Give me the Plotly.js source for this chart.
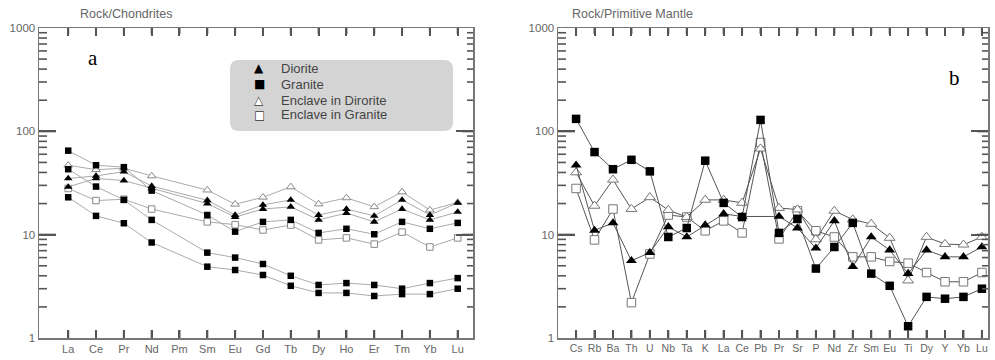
<!DOCTYPE html>
<html>
<head>
<meta charset="utf-8">
<script src="https://cdn.plot.ly/plotly-3.0.1.min.js"></script>
<style>html,body{margin:0;padding:0;background:#fff;}#chart{width:995px;height:360px;}</style>
</head>
<body>
<div id="chart"></div>
<script>
// ---------- Data ----------
const reeLabels = ['La','Ce','Pr','Nd','Pm','Sm','Eu','Gd','Tb','Dy','Ho','Er','Tm','Yb','Lu'];
const reeDioriteA = [35,37,40.7,29.5,null,21.5,15.5,19.4,21.7,15.5,17.7,15.2,21.7,15.5,20.3];
const reeDioriteB = [29,35,33.4,28.1,null,20,14.8,17.7,18.6,13.9,16.2,13.3,17.7,13.9,16.6];
const reeGraniteA = [65,47,45,26.7,null,15.5,10.7,13.3,13.9,10.4,11.4,10.1,13.3,11.4,13];
const reeGraniteB = [43,29.2,21.7,13.9,null,6.7,6.0,5.2,4.0,3.26,3.4,3.26,3.0,3.4,3.8];
const reeGraniteC = [23,15.2,12.9,8.4,null,4.9,4.55,4.07,3.2,2.73,2.73,2.55,2.66,2.66,3.0];
const reeEnclDiorite = [47,42.5,44,37,null,27,19.7,23,29,19.8,22.7,18.6,25.9,17.3,20.5];
const reeEnclGranite = [28,21.4,22,17.7,null,13.3,12.5,11.1,12.4,8.9,9.3,8.1,10.6,7.6,9.3];

const spiderLabels = ['Cs','Rb','Ba','Th','U','Nb','Ta','K','La','Ce','Pb','Pr','Sr','P','Nd','Zr','Sm','Eu','Ti','Dy','Y','Yb','Lu'];
const spDiorite = [47,11,13,5.6,6.7,11.9,9.5,12.4,15.9,15,null,15,11.6,7.4,13.6,4.9,9.5,7.1,4.2,7.1,6.1,6.1,7.6];
const spGranite = [132,63,43,53,41,9.5,11.6,52,20.3,14.8,129,10.4,14.2,4.7,7.6,13,4.2,3.2,1.3,2.5,2.4,2.5,3.0];
const spEnclDiorite = [40,19,34,17.7,23,17.3,14.8,21.7,21.7,20.3,68,18.1,17.5,9,17,14,12.7,9.3,3.6,9.5,8.1,8.0,9.5];
const spEnclGranite = [28,8.9,17.7,2.2,6.5,15.5,14.8,10.9,13.6,10.4,78,9.1,17,10.9,9.5,6.1,6.1,5.5,5.3,4.3,3.5,3.5,4.3];

const legendNames = ['Diorite','Granite','Enclave in Dirorite','Enclave in Granite'];
const yMajorTicks = [1, 10, 100, 1000];
const yMinorTicks = [2,3,4,5,6,7,8,9,20,30,40,50,60,70,80,90,200,300,400,500,600,700,800,900];

// ---------- Geometry (pixels) ----------
const W = 995, H = 360;
const px = x => x / W;
const py = y => 1 - y / H;
const idx = arr => arr.map((_, i) => i);
const TOP = 28, BOT = 338;
const panels = [
  {xa:'x', left:39, right:473, labels:reeLabels, range:[-1.05, 14.55]},
  {xa:'x2', left:558, right:988, labels:spiderLabels, range:[-0.98, 22.33]}
];

const leftLine = {color:'#aaaaaa', width:1};
const rightLine = {color:'#555555', width:1};

function mk(kind, size, openColor){
  if (kind === 'tri') return {symbol:'triangle-up', size:size, color:'#000', line:{width:0}};
  if (kind === 'sq') return {symbol:'square', size:size, color:'#000', line:{width:0}};
  if (kind === 'otri') return {symbol:'triangle-up', size:size, color:'#fff', line:{width:1, color:openColor}};
  return {symbol:'square', size:size, color:'#fff', line:{width:1, color:openColor}};
}
function tr(xa, ya, labels, vals, line, marker){
  return {type:'scatter', mode:'lines+markers', xaxis:xa, yaxis:ya,
    x: idx(labels), y: vals, connectgaps:true, line:line, marker:marker,
    showlegend:false, hoverinfo:'skip'};
}

const traces = [
  tr('x','y',reeLabels,reeEnclGranite,leftLine,mk('osq',6.5,'#888')),
  tr('x','y',reeLabels,reeEnclDiorite,leftLine,mk('otri',7.5,'#888')),
  tr('x','y',reeLabels,reeGraniteC,leftLine,mk('sq',6.5)),
  tr('x','y',reeLabels,reeGraniteB,leftLine,mk('sq',6.5)),
  tr('x','y',reeLabels,reeGraniteA,leftLine,mk('sq',6.5)),
  tr('x','y',reeLabels,reeDioriteB,leftLine,mk('tri',7.5)),
  tr('x','y',reeLabels,reeDioriteA,leftLine,mk('tri',7.5)),

  tr('x2','y2',spiderLabels,spEnclGranite,rightLine,mk('osq',8.5,'#777')),
  tr('x2','y2',spiderLabels,spEnclDiorite,rightLine,mk('otri',9.5,'#777')),
  tr('x2','y2',spiderLabels,spGranite,rightLine,mk('sq',8.5)),
  tr('x2','y2',spiderLabels,spDiorite,rightLine,mk('tri',9.5)),
];

const axCol = '#555';
const tickFont = {family:'Liberation Sans, Arial, sans-serif', size:11, color:'#666'};
function xax(domain, labels, range, fs){
  return {domain:domain, range:range, tickmode:'array', tickvals:idx(labels), ticktext:labels,
    ticks:'inside', ticklen:8, tickwidth:2, tickcolor:axCol, mirror:'ticks',
    showline:true, linecolor:'#777', linewidth:1.5, showgrid:false, zeroline:false,
    tickangle:0, tickfont:Object.assign({}, tickFont, {size:fs}), fixedrange:true};
}
function yax(anchor){
  return {anchor:anchor, type:'log', domain:[py(BOT), py(TOP)], range:[0,3],
    tickmode:'array', tickvals:yMajorTicks, ticktext:yMajorTicks.map(String),
    ticks:'inside', ticklen:17, tickwidth:2, tickcolor:axCol, mirror:'ticks',
    showline:true, linecolor:'#777', linewidth:1.5, showgrid:false, zeroline:false,
    tickfont:Object.assign({}, tickFont, {size:11.5}), fixedrange:true};
}

// Tick marks drawn as thin filled rectangles (inside ticks, mirrored)
const shapes = [];
function bar(x0,y0,x1,y1){
  shapes.push({type:'rect', xref:'paper', yref:'paper',
    x0:px(Math.min(x0,x1)), x1:px(Math.max(x0,x1)), y0:py(Math.max(y0,y1)), y1:py(Math.min(y0,y1)),
    fillcolor:axCol, line:{width:0}, layer:'above'});
}
const yPix = v => BOT - (BOT - TOP) * Math.log10(v) / 3;
panels.forEach(p => {
  yMajorTicks.slice(1, 3).forEach(v => {
    const y = yPix(v);
    bar(p.left, y - 1, p.left + 17, y + 1);
    bar(p.right - 11, y - 1, p.right, y + 1);
  });
  yMinorTicks.forEach(v => {
    const y = yPix(v);
    bar(p.left, y - 0.8, p.left + 8, y + 0.8);
    bar(p.right - 6, y - 0.8, p.right, y + 0.8);
  });
  const ppu = (p.right - p.left) / (p.range[1] - p.range[0]);
  p.labels.forEach((_, i) => {
    const xc = p.left + (i - p.range[0]) * ppu;
    bar(xc - 1, BOT - 8, xc + 1, BOT);
    bar(xc - 1, TOP, xc + 1, TOP + 6);
  });
});

// Rounded legend box
function roundRect(x0,y0,x1,y1,r){
  const P = (x,y) => px(x)+','+py(y);
  return 'M'+P(x0+r,y0)+' L'+P(x1-r,y0)+' Q'+P(x1,y0)+' '+P(x1,y0+r)+
    ' L'+P(x1,y1-r)+' Q'+P(x1,y1)+' '+P(x1-r,y1)+
    ' L'+P(x0+r,y1)+' Q'+P(x0,y1)+' '+P(x0,y1-r)+
    ' L'+P(x0,y0+r)+' Q'+P(x0,y0)+' '+P(x0+r,y0)+' Z';
}
shapes.push({type:'path', xref:'paper', yref:'paper', path:roundRect(230,60,453,131,9),
  fillcolor:'#d4d4d4', line:{width:0}, layer:'above'});

const annFont = {family:'Liberation Sans, Arial, sans-serif', size:13, color:'#444'};
const glyphFont = {family:'DejaVu Sans, sans-serif', size:12, color:'#000'};
function ann(x, y, text, font, xanchor){
  return {xref:'paper', yref:'paper', x:px(x), y:py(y), text:text, showarrow:false,
    font:font, xanchor:xanchor||'left', yanchor:'middle'};
}
const rowsY = [68, 84, 100, 115];
const annotations = [
  ann(78, 14, 'Rock/Chondrites', {family:'Liberation Sans, Arial, sans-serif', size:12.5, color:'#666'}),
  ann(570, 14, 'Rock/Primitive Mantle', {family:'Liberation Sans, Arial, sans-serif', size:12.5, color:'#666'}),
  ann(93, 58, 'a', {family:'Liberation Serif, Times New Roman, serif', size:21, color:'#000'}, 'center'),
  ann(954, 78, 'b', {family:'Liberation Serif, Times New Roman, serif', size:21, color:'#000'}, 'center'),
  ann(259, rowsY[0], '\u25B2', glyphFont, 'center'),
  ann(259, rowsY[1], '\u25A0', glyphFont, 'center'),
  ann(259, rowsY[2], '\u25B2', Object.assign({}, glyphFont, {color:'#fff'}), 'center'),
  ann(259, rowsY[2], '\u25B3', Object.assign({}, glyphFont, {color:'#333'}), 'center'),
  ann(259, rowsY[3], '\u25A0', Object.assign({}, glyphFont, {color:'#fff'}), 'center'),
  ann(259, rowsY[3], '\u25A1', Object.assign({}, glyphFont, {color:'#333'}), 'center'),
];
legendNames.forEach((n, i) => annotations.push(ann(279, rowsY[i], n, annFont)));

const layout = {
  width: W, height: H,
  margin:{l:0, r:0, t:0, b:0},
  paper_bgcolor:'#fff', plot_bgcolor:'rgba(0,0,0,0)',
  showlegend:false,
  xaxis: xax([px(39), px(473)], reeLabels, panels[0].range, 11),
  yaxis: yax('x'),
  xaxis2: Object.assign(xax([px(558), px(988)], spiderLabels, panels[1].range, 10.5), {anchor:'y2'}),
  yaxis2: yax('x2'),
  shapes: shapes,
  annotations: annotations,
  font:{family:'Liberation Sans, Arial, sans-serif'}
};

Plotly.newPlot('chart', traces, layout, {displayModeBar:false, staticPlot:true});
</script>
</body>
</html>
